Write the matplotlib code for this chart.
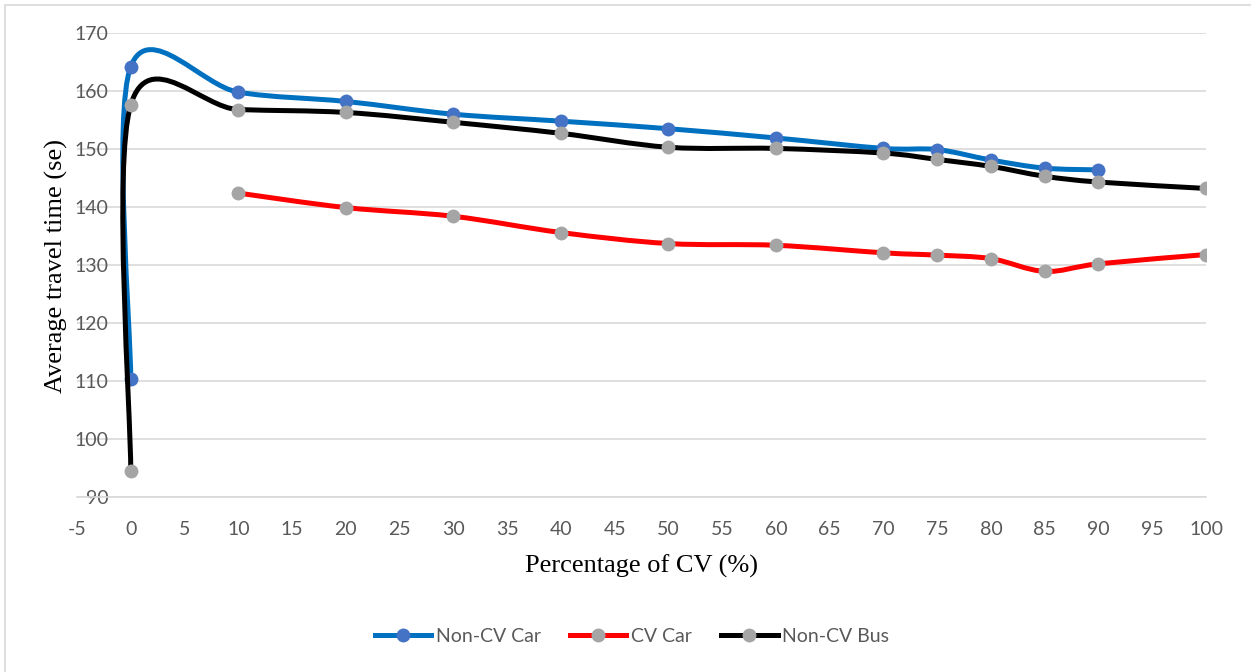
import numpy as np
import matplotlib.pyplot as plt
from matplotlib.path import Path
from matplotlib.patches import PathPatch, Rectangle
from matplotlib.lines import Line2D

plt.rcParams['axes.unicode_minus'] = False

# Percentage of connected vehicles and average travel times (s)
car_x = [0, 0, 10, 20, 30, 40, 50, 60, 70, 75, 80, 85, 90]
car_y = [110.3, 164.2, 159.8, 158.2, 156.0, 154.8, 153.5, 151.9, 150.1, 149.9, 148.1, 146.7, 146.4]

cv_x = [10, 20, 30, 40, 50, 60, 70, 75, 80, 85, 90, 100]
cv_y = [142.4, 139.9, 138.4, 135.6, 133.7, 133.4, 132.1, 131.7, 131.1, 128.9, 130.2, 131.8]

bus_x = [0, 0, 10, 20, 30, 40, 50, 60, 70, 75, 80, 85, 90, 100]
bus_y = [94.4, 157.6, 156.8, 156.3, 154.6, 152.7, 150.3, 150.1, 149.3, 148.2, 147.0, 145.3, 144.3, 143.2]

labels = ['Non-CV Car', 'CV Car', 'Non-CV Bus']
line_colors = ['#0070C0', '#FF0000', '#000000']
marker_colors = ['#4472C4', '#A5A5A5', '#A5A5A5']

xticks = np.arange(-5, 101, 5)
yticks = np.arange(90, 171, 10)


def smooth_path(xs, ys):
    # Catmull-Rom style bezier, like a spreadsheet "smoothed line"
    p = np.column_stack([xs, ys]).astype(float)
    n = len(p)
    verts = [p[0]]
    codes = [Path.MOVETO]
    for i in range(n - 1):
        p0 = p[max(i - 1, 0)]
        p1 = p[i]
        p2 = p[i + 1]
        p3 = p[min(i + 2, n - 1)]
        c1 = p1 + (p2 - p0) / 6
        c2 = p2 - (p3 - p1) / 6
        verts += [c1, c2, p2]
        codes += [Path.CURVE4] * 3
    return Path(verts, codes)


fig = plt.figure(figsize=(12.51, 6.72), dpi=100)
ax = fig.add_axes([77 / 1251, 1 - 497 / 672, (1206 - 77) / 1251, (497 - 33) / 672])

series = [(car_x, car_y), (cv_x, cv_y), (bus_x, bus_y)]
for k, (xs, ys) in enumerate(series):
    patch = PathPatch(smooth_path(xs, ys), facecolor='none', edgecolor=line_colors[k],
                      lw=3.6, capstyle='round', joinstyle='round', zorder=3 + 2 * k)
    ax.add_patch(patch)
    ax.plot(xs, ys, 'o', ms=10, color=marker_colors[k], mec='none', zorder=4 + 2 * k)

ax.set_xlim(-5, 100)
ax.set_ylim(90, 170)
ax.set_xticks(xticks)
ax.set_yticks(yticks)
ax.grid(axis='y', color='#D9D9D9', lw=1.2)
ax.set_axisbelow(True)
# vertical axis crosses at x = 0, its labels sit just left of it
ax.spines['left'].set_position(('data', 0))
for s in ['top', 'right', 'left']:
    ax.spines[s].set_visible(False)
ax.spines['bottom'].set_color('#D9D9D9')
ax.spines['bottom'].set_linewidth(1.2)
ax.tick_params(length=0, labelsize=14, labelcolor='#595959')
ax.tick_params(axis='y', pad=16)
ax.tick_params(axis='x', pad=17)
for t in ax.get_xticklabels() + ax.get_yticklabels():
    t.set_family('Lato')

ax.set_xlabel('Percentage of CV (%)', family='Liberation Serif', fontsize=19, va='center')
ax.xaxis.set_label_coords(0.5004, (497 - 566) / 464)
ax.set_ylabel('Average travel time (se)', family='Liberation Serif', fontsize=19, va='center')
ax.yaxis.set_label_coords((56 - 77) / 1129, (497 - 266) / 464)

handles = [Line2D([], [], color=line_colors[k], lw=3.6, marker='o', ms=10,
                  mfc=marker_colors[k], mec='none') for k in range(3)]
fig.legend(handles, labels, loc='center', bbox_to_anchor=(632 / 1251, 1 - 636 / 672),
           ncol=3, frameon=False, prop={'family': 'Lato', 'size': 14},
           labelcolor='#595959', handlelength=2.9, handletextpad=0.25, columnspacing=1.5)

# light frame around the chart area
fig.patches.append(Rectangle((5 / 1251, -0.05), 1.2, 1 - 5 / 672 + 0.05,
                             transform=fig.transFigure, fill=False,
                             edgecolor='#D9D9D9', lw=1.2))

fig.savefig('out.png', dpi=100)
